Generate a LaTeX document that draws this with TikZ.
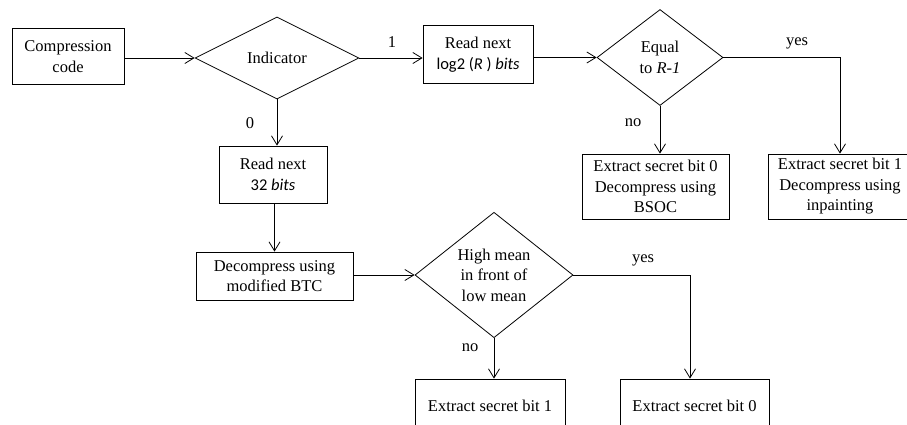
\documentclass[tikz,border=0pt]{standalone}
\usepackage{fontspec}
\setmainfont{Liberation Serif}
\newfontfamily\calibfont{Carlito}
\usetikzlibrary{shapes.geometric,arrows.meta}
\tikzset{
  base/.style={draw, line width=0.8pt, align=center, inner sep=0pt,
    font=\fontsize{16.5}{20.5}\selectfont},
  box/.style={base, rectangle},
  dia/.style={base, diamond},
  arr/.style={line width=0.8pt, -{Straight Barb[length=9pt,width=11pt,line width=0.8pt]}},
  lab/.style={font=\fontsize{16.5}{20}\selectfont, inner sep=0pt}
}
\begin{document}
\begin{tikzpicture}[x=1pt,y=-1pt]
\useasboundingbox (0,0) rectangle (907,425);
\clip (0,0) rectangle (907,425);
% nodes
\node[box, minimum width=112pt, minimum height=56pt] (cc) at (68,56.5) {Compression\\code};
\node[dia, minimum width=164pt, minimum height=82pt] (ind) at (277,58) {Indicator};
\node[box, minimum width=110pt, minimum height=58pt] (r1) at (478,54.5) {Read next\\{\calibfont log2 (\textit{R} ) \textit{bits}}};
\node[dia, minimum width=126pt, minimum height=96pt] (eq) at (660,57.5) {Equal\\to \textit{R-1}};
\node[box, minimum width=147pt, minimum height=65pt] (e0) at (655.5,186.5) {Extract secret bit 0\\Decompress using\\BSOC};
\node[box, minimum width=144pt, minimum height=65pt] (e1r) at (840,186.5) {Extract secret bit 1\\Decompress using\\inpainting};
\node[box, minimum width=108pt, minimum height=57pt] (r32) at (273,174.5) {Read next\\{\calibfont 32 \textit{bits}}};
\node[box, minimum width=157pt, minimum height=48pt] (dm) at (274.5,276) {Decompress using\\modified BTC};
\node[dia, minimum width=158pt, minimum height=113pt] (hm) at (494,275) {High mean\\in front of\\low mean};
\node[box, minimum width=150pt, minimum height=54pt] (b1) at (490,406) {Extract secret bit 1};
\node[box, minimum width=149pt, minimum height=54pt] (b0) at (694.5,406) {Extract secret bit 0};
% labels
\node[lab] (l1) at (392,42) {1};
\node[lab] (l0) at (250,123) {0};
\node[lab] (ly1) at (797,43) {yes};
\node[lab] (ln1) at (633,123) {no};
\node[lab] (ln2) at (470,348) {no};
\node[lab] (ly2) at (643,260) {yes};
% connectors
\draw[arr] (cc.east |- ind.west) -- (ind.west);
\draw[arr] (ind.east) -- (ind.east -| r1.west);
\draw[arr] (r1.east |- eq.west) -- (eq.west);
\draw[arr] (eq.east) -| (e1r.north);
\draw[arr] (eq.south) -- (eq.south |- e0.north);
\draw[arr] (ind.south) -- (ind.south |- r32.north);
\draw[arr] (r32.south -| dm.north) -- (dm.north);
\draw[arr] (dm.east |- hm.west) -- (hm.west);
\draw[arr] (hm.south) -- (hm.south |- b1.north);
\draw[arr] (hm.east) -| ([xshift=-4.5pt]b0.north);
\end{tikzpicture}
\end{document}
